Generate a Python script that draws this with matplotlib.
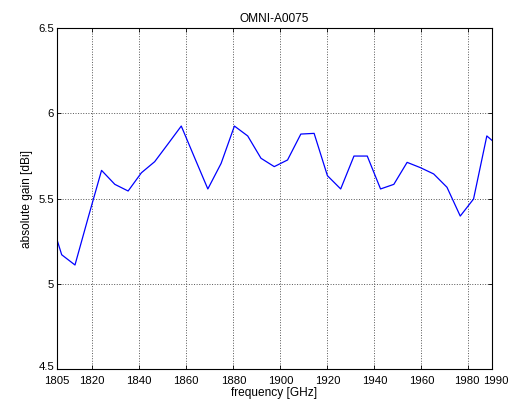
import matplotlib
matplotlib.use("Agg")
import matplotlib.pyplot as plt
from matplotlib.transforms import ScaledTranslation

# measured gain of the antenna over frequency
freq = [1801.35, 1807.0, 1812.65, 1818.3, 1823.95, 1829.6, 1835.25, 1840.9,
        1846.55, 1852.2, 1857.85, 1863.5, 1869.15, 1874.8, 1880.45, 1886.1,
        1891.75, 1897.4, 1903.05, 1908.7, 1914.35, 1920.0, 1925.65, 1931.3,
        1936.95, 1942.6, 1948.25, 1953.9, 1959.55, 1965.2, 1970.85, 1976.5,
        1982.15, 1987.8, 1993.45]
gain = [5.42, 5.17, 5.11, 5.39, 5.665, 5.583, 5.544, 5.651,
        5.716, 5.82, 5.925, 5.74, 5.556, 5.706, 5.925, 5.867,
        5.736, 5.687, 5.726, 5.878, 5.882, 5.634, 5.556, 5.749,
        5.749, 5.556, 5.583, 5.712, 5.681, 5.644, 5.566, 5.397,
        5.497, 5.867, 5.80]

xticks = [1805, 1820, 1840, 1860, 1880, 1900, 1920, 1940, 1960, 1980, 1990]
yticks = [4.5, 5, 5.5, 6, 6.5]

plt.rcParams['font.family'] = ['Liberation Sans', 'DejaVu Sans']
plt.rcParams['font.size'] = 8.6

fig = plt.figure(figsize=(5.08, 4.12), dpi=100)
ax = fig.add_axes([0.1122, 0.1044, 0.8563, 0.8276])
ax.plot(freq, gain, color='blue', linewidth=0.9)

ax.set_xlim(1805, 1990)
ax.set_ylim(4.5, 6.5)
ax.set_xticks(xticks)
ax.set_xticklabels([str(t) for t in xticks], fontsize=8.2)
ax.set_yticks(yticks)
ax.set_yticklabels(['4.5', '5', '5.5', '6', '6.5'], fontsize=8.2)
ax.tick_params(direction='in', top=True, right=True, length=3, width=0.6)
ax.tick_params(axis='x', pad=5)
ax.tick_params(axis='y', pad=2)
ax.grid(True, color='#555555', linestyle=':', linewidth=0.7)
for s in ax.spines.values():
    s.set_linewidth(0.8)

# squeeze the crowded labels at the ends apart a little
xl = ax.get_xticklabels()
xl[-1].set_transform(xl[-1].get_transform() + ScaledTranslation(3 / 72, 0, fig.dpi_scale_trans))
xl[-2].set_transform(xl[-2].get_transform() + ScaledTranslation(-1 / 72, 0, fig.dpi_scale_trans))
yl = ax.get_yticklabels()
yl[0].set_transform(yl[0].get_transform() + ScaledTranslation(0, 2 / 72, fig.dpi_scale_trans))

ax.set_title('OMNI-A0075', fontsize=8.6, pad=4)
ax.set_xlabel('frequency [GHz]', labelpad=1)
ax.set_ylabel('absolute gain [dBi]', labelpad=4)

fig.savefig('out.png', dpi=100)
